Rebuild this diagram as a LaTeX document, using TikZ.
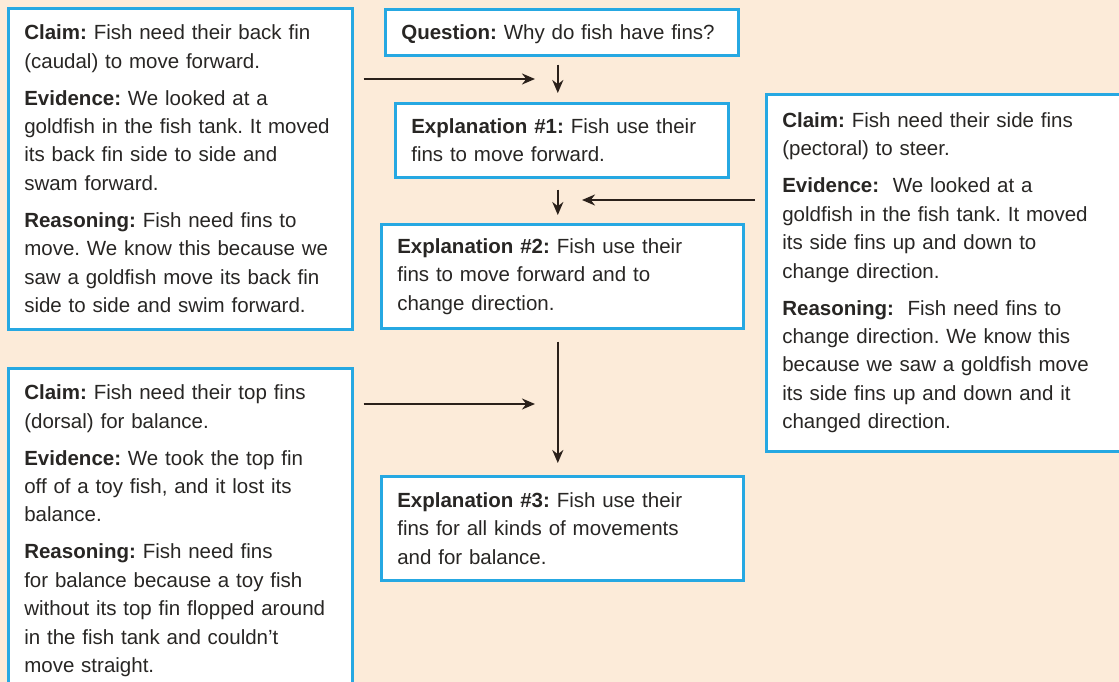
\documentclass[tikz,border=0pt]{standalone}
\usepackage{fontspec}
\setmainfont{Liberation Sans}
\usetikzlibrary{calc,arrows.meta}
\definecolor{paper}{RGB}{252,235,217}
\definecolor{rimblue}{RGB}{38,168,226}
\definecolor{ink}{RGB}{40,38,36}
\definecolor{arrowink}{RGB}{42,32,26}
\newcommand*{\hd}[1]{\textbf{#1}}
\newcommand*{\gap}{\\[8.6pt]}
\frenchspacing

\begin{document}
\begin{tikzpicture}[x=1pt,y=-1pt,
  cardbox/.style={draw=rimblue,line width=2.6pt,fill=white,text=ink,
    align=left,inner xsep=16pt,inner ysep=0pt,anchor=north west,
    font=\fontsize{20.5}{28.4}\selectfont},
  flow/.style={draw=arrowink,line width=2.4pt,
    -{Stealth[length=13pt,width=11pt]}}]
% Page with its peach background
\fill[paper] (0,0) rectangle (1119,682);
\useasboundingbox (0,0) rectangle (1119,682);
\clip (0,0) rectangle (1119,682);
% Claim boxes on the left and on the right
\node[cardbox,text width=312pt,minimum height=321pt] (claimfwd) at (7,7)
  {\hd{Claim:} Fish need their back fin\\ (caudal) to move forward.\gap
   \hd{Evidence:} We looked at a\\ goldfish in the fish tank. It moved\\
   its back fin side to side and\\ swam forward.\gap
   \hd{Reasoning:} Fish need fins to\\ move. We know this because we\\
   saw a goldfish move its back fin\\ side to side and swim forward.};
\node[cardbox,text width=312pt,minimum height=325pt] (claimbal) at (7,367)
  {\hd{Claim:} Fish need their top fins\\ (dorsal) for balance.\gap
   \hd{Evidence:} We took the top fin\\ off of a toy fish, and it lost its\\
   balance.\gap
   \hd{Reasoning:} Fish need fins\\ for balance because a toy fish\\
   without its top fin flopped around\\ in the fish tank and couldn't\\
   move straight.};
\node[cardbox,text width=332pt,minimum height=357pt] (claimsteer) at (765,93)
  {\hd{Claim:} Fish need their side fins\\ (pectoral) to steer.\gap
   \hd{Evidence:}\ \ We looked at a\\ goldfish in the fish tank. It moved\\
   its side fins up and down to\\ change direction.\gap
   \hd{Reasoning:}\ \ Fish need fins to\\ change direction. We know this\\
   because we saw a goldfish move\\ its side fins up and down and it\\
   changed direction.};
% Question and explanations down the middle
\node[cardbox,text width=321pt,minimum height=46pt,text depth=0pt] (question)
  at (384,8) {\hd{Question:} Why do fish have fins?};
\node[cardbox,text width=301pt,minimum height=74pt] (expl1) at (394,102)
  {\hd{Explanation \#1:} Fish use their\\ fins to move forward.};
\node[cardbox,text width=330pt,minimum height=104pt] (expl2) at (380,223)
  {\hd{Explanation \#2:} Fish use their\\ fins to move forward and to\\
   change direction.};
\node[cardbox,text width=330pt,minimum height=104pt] (expl3) at (380,475)
  {\hd{Explanation \#3:} Fish use their\\ fins for all kinds of movements\\
   and for balance.};
% Free ends of the claim arrows
\coordinate (intofwd) at (535,79);
\coordinate (intosteer) at (582,200);
\coordinate (intobal) at (535,404);
% Claim arrows
\draw[flow] ($(claimfwd.east |- intofwd)+(10,0)$) -- (intofwd);
\draw[flow] ($(claimsteer.west |- intosteer)+(-10,0)$) -- (intosteer);
\draw[flow] ($(claimbal.east |- intobal)+(10,0)$) -- (intobal);
% Arrows down the middle
\draw[flow] ($(question.south)+(-4,8)$) -- ($(expl1.north)+(-4,-9)$);
\draw[flow] ($(expl1.south)+(-4,11)$) -- ($(expl2.north)+(-4.5,-8)$);
\draw[flow] ($(expl2.south)+(-4.5,12)$) -- ($(expl3.north)+(-4.5,-12)$);
\end{tikzpicture}
\end{document}
